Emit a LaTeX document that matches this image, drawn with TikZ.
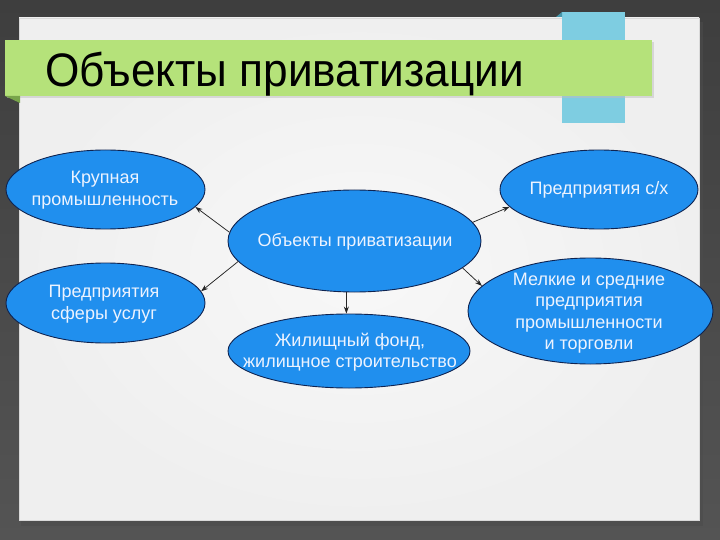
\documentclass[tikz,border=0pt]{standalone}
\usepackage{fontspec}
\setmainfont{Liberation Sans}
\usetikzlibrary{shapes.geometric,arrows.meta}
\definecolor{bgdark}{RGB}{62,62,62}
\definecolor{bgmid}{RGB}{84,84,84}
\definecolor{paperin}{RGB}{248,248,248}
\definecolor{paperout}{RGB}{239,239,239}
\definecolor{bannergreen}{RGB}{181,226,122}
\definecolor{folddark}{RGB}{120,165,75}
\definecolor{tabblue}{RGB}{126,205,225}
\definecolor{tabdark}{RGB}{70,150,170}
\definecolor{ovalblue}{RGB}{32,143,238}
\definecolor{ovalline}{RGB}{15,35,80}
\definecolor{ovaltext}{RGB}{236,243,255}
\tikzset{
  oval/.style={ellipse, draw=ovalline, line width=0.9pt, fill=ovalblue, inner sep=0pt},
  lbl/.style={text=ovaltext, align=center, inner sep=0pt, font=\fontsize{18}{21.5}\selectfont},
  conn/.style={-{Stealth[length=7pt,width=5pt]}, line width=0.75pt, draw=black!85}
}
\begin{document}
\begin{tikzpicture}[x=1pt,y=-1pt]
\useasboundingbox (0,0) rectangle (720,540);
% background
\shade[top color=bgdark, bottom color=bgmid] (0,0) rectangle (720,540);
% paper shadow and paper
\fill[black!70, opacity=0.6] (21,22) rectangle (703,526);
\shade[inner color=paperin, outer color=paperout] (19,18) rectangle (699,520);
\draw[white!85!black, line width=0.6pt] (19,18) rectangle (699,520);
% blue tab
\fill[tabblue] (562,12) rectangle (625,123);
\fill[tabdark] (556,17) -- (562,12) -- (562,17) -- cycle;
% green banner
\fill[black!25, opacity=0.5] (7,42) rectangle (654,98);
\fill[bannergreen] (5,40) rectangle (652,96);
\fill[folddark] (5,96) -- (20,96) -- (20,103) -- cycle;
\node[anchor=base west, inner sep=0pt, font=\fontsize{47}{50}\selectfont] (title) at (45,87) {\scalebox{0.94}[1]{Объекты приватизации}};
% ovals
\node[oval, minimum width=253pt, minimum height=102pt] (c) at (354.5,241) {};
\node[oval, minimum width=199pt, minimum height=79pt] (k) at (105.5,189.5) {};
\node[oval, minimum width=199pt, minimum height=80pt] (s) at (105.5,303) {};
\node[oval, minimum width=242pt, minimum height=74pt] (h) at (349,351) {};
\node[oval, minimum width=198pt, minimum height=79pt] (p) at (599,189.5) {};
\node[oval, minimum width=245pt, minimum height=106pt] (m) at (590.5,311) {};
% texts
\node[lbl] (ct) at (355,242) {Объекты приватизации};
\node[lbl] (kt) at (105,190) {Крупная\\промышленность};
\node[lbl] (st) at (104,304) {Предприятия\\сферы услуг};
\node[lbl] (ht) at (350,352) {Жилищный фонд,\\жилищное строительство};
\node[lbl] (pt) at (599,190) {Предприятия с/х};
\node[lbl] (mt) at (589,313) {Мелкие и средние\\предприятия\\промышленности\\и торговли};
% connectors
\draw[conn] (c.176.4) -- (k.-11.7);
\draw[conn] (c.190) -- (s.7.8);
\draw[conn] (c.261.6) -- (c.261.6 |- h.north);
\draw[conn] (c.9) -- (p.191.4);
\draw[conn] (c.-14.1) -- (m.167.4);
\end{tikzpicture}
\end{document}
